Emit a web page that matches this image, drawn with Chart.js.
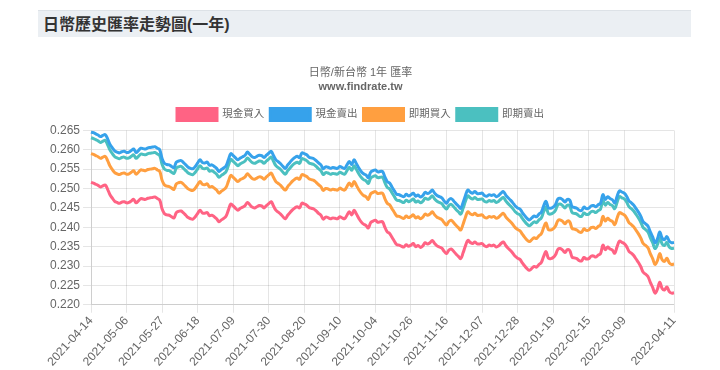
<!DOCTYPE html>
<html>
<head>
<meta charset="utf-8">
<script src="https://cdn.jsdelivr.net/npm/chart.js@4"></script>
<style>
  html, body { margin: 0; padding: 0; background: #fff; }
  body { width: 720px; height: 370px; position: relative; overflow: hidden;
         font-family: "Liberation Sans", Arial, "Noto Sans CJK TC", sans-serif; }
  .head { position: absolute; left: 38px; top: 10px; width: 653px; height: 27px;
          background: #ebeff3; border-top: 1px solid #dde2e7; box-sizing: border-box; }
  .head h1 { margin: 0; padding-left: 5px; font-size: 16px; line-height: 28px; font-weight: bold; color: #333; }
  .box { position: absolute; left: 38px; top: 52px; width: 654px; height: 318px; }
</style>
</head>
<body>
<div class="head"><h1>日幣歷史匯率走勢圖(一年)</h1></div>
<div class="box"><canvas id="graficoJPY"></canvas></div>
<script>
// eixo x: só estas datas aparecem (a cada 15 pregões, última no fim)
const tickLabels = ["2021-04-14", "2021-05-06", "2021-05-27", "2021-06-18", "2021-07-09", "2021-07-30",
  "2021-08-20", "2021-09-10", "2021-10-04", "2021-10-26", "2021-11-16", "2021-12-07", "2021-12-28",
  "2022-01-19", "2022-02-15", "2022-03-09", "2022-04-11"];
const tickIndex = [0, 15, 30, 45, 60, 75, 90, 105, 120, 135, 150, 165, 180, 195, 210, 225, 246];

const nomes = ["現金買入", "現金賣出", "即期買入", "即期賣出"];
const cores = ["#ff6384", "#36a2eb", "#ff9f40", "#4bc0c0"];

const cashBuy = [0.2516,0.2514,0.2511,0.2508,0.2504,0.2507,0.2509,0.2498,0.2484,0.2475,
0.2467,0.2464,0.2462,0.2465,0.2466,0.2463,0.2464,0.2468,0.2472,0.2463,
0.2468,0.2474,0.2473,0.2472,0.2475,0.2476,0.2477,0.2478,0.2474,0.2470,
0.2447,0.2435,0.2432,0.2431,0.2427,0.2424,0.2438,0.2441,0.2442,0.2437,
0.2431,0.2425,0.2422,0.2421,0.2427,0.2436,0.2444,0.2437,0.2436,0.2438,
0.2430,0.2431,0.2427,0.2422,0.2414,0.2419,0.2423,0.2429,0.2445,0.2460,
0.2455,0.2449,0.2444,0.2449,0.2452,0.2456,0.2464,0.2458,0.2452,0.2450,
0.2453,0.2456,0.2455,0.2450,0.2456,0.2461,0.2466,0.2455,0.2444,0.2439,
0.2434,0.2427,0.2422,0.2431,0.2438,0.2445,0.2450,0.2453,0.2450,0.2462,
0.2460,0.2457,0.2451,0.2449,0.2447,0.2442,0.2436,0.2431,0.2421,0.2426,
0.2425,0.2422,0.2424,0.2423,0.2422,0.2427,0.2424,0.2422,0.2431,0.2440,
0.2432,0.2444,0.2434,0.2423,0.2414,0.2408,0.2405,0.2398,0.2412,0.2416,
0.2418,0.2413,0.2414,0.2414,0.2400,0.2388,0.2384,0.2374,0.2364,0.2355,
0.2354,0.2351,0.2349,0.2355,0.2351,0.2354,0.2358,0.2350,0.2353,0.2348,
0.2352,0.2360,0.2357,0.2360,0.2366,0.2358,0.2352,0.2349,0.2346,0.2338,
0.2332,0.2341,0.2344,0.2338,0.2331,0.2325,0.2319,0.2334,0.2352,0.2366,
0.2361,0.2358,0.2362,0.2357,0.2357,0.2358,0.2352,0.2350,0.2354,0.2352,
0.2354,0.2349,0.2352,0.2358,0.2362,0.2353,0.2346,0.2340,0.2333,0.2325,
0.2320,0.2317,0.2308,0.2300,0.2293,0.2289,0.2294,0.2299,0.2297,0.2304,
0.2309,0.2325,0.2337,0.2320,0.2319,0.2322,0.2329,0.2343,0.2345,0.2341,
0.2335,0.2342,0.2340,0.2323,0.2321,0.2319,0.2314,0.2313,0.2322,0.2318,
0.2319,0.2325,0.2326,0.2323,0.2328,0.2332,0.2354,0.2342,0.2349,0.2344,
0.2341,0.2333,0.2350,0.2364,0.2361,0.2358,0.2350,0.2338,0.2333,0.2327,
0.2318,0.2309,0.2298,0.2284,0.2279,0.2273,0.2258,0.2245,0.2230,0.2240,
0.2258,0.2242,0.2238,0.2246,0.2234,0.2230,0.2231];

const cashSell = [0.2646,0.2644,0.2641,0.2638,0.2634,0.2637,0.2639,0.2628,0.2614,0.2605,
0.2597,0.2594,0.2592,0.2595,0.2596,0.2593,0.2594,0.2598,0.2602,0.2593,
0.2598,0.2604,0.2603,0.2602,0.2605,0.2606,0.2607,0.2608,0.2604,0.2600,
0.2577,0.2565,0.2562,0.2561,0.2557,0.2554,0.2568,0.2571,0.2572,0.2567,
0.2561,0.2555,0.2552,0.2551,0.2557,0.2566,0.2574,0.2567,0.2566,0.2568,
0.2560,0.2561,0.2557,0.2552,0.2544,0.2549,0.2553,0.2559,0.2575,0.2590,
0.2585,0.2579,0.2574,0.2579,0.2582,0.2586,0.2594,0.2588,0.2582,0.2580,
0.2583,0.2586,0.2585,0.2580,0.2586,0.2591,0.2596,0.2585,0.2574,0.2569,
0.2564,0.2557,0.2552,0.2561,0.2568,0.2575,0.2580,0.2583,0.2580,0.2592,
0.2590,0.2587,0.2581,0.2579,0.2577,0.2572,0.2566,0.2561,0.2551,0.2556,
0.2555,0.2552,0.2554,0.2553,0.2552,0.2557,0.2554,0.2552,0.2561,0.2570,
0.2562,0.2574,0.2564,0.2553,0.2544,0.2538,0.2535,0.2528,0.2542,0.2546,
0.2548,0.2543,0.2544,0.2544,0.2530,0.2518,0.2514,0.2504,0.2494,0.2485,
0.2484,0.2481,0.2479,0.2485,0.2481,0.2484,0.2488,0.2480,0.2483,0.2478,
0.2482,0.2490,0.2487,0.2490,0.2496,0.2488,0.2482,0.2479,0.2476,0.2468,
0.2462,0.2471,0.2474,0.2468,0.2461,0.2455,0.2449,0.2464,0.2482,0.2496,
0.2491,0.2488,0.2492,0.2487,0.2487,0.2488,0.2482,0.2480,0.2484,0.2482,
0.2484,0.2479,0.2482,0.2488,0.2492,0.2483,0.2476,0.2470,0.2463,0.2455,
0.2450,0.2447,0.2438,0.2430,0.2423,0.2419,0.2424,0.2429,0.2427,0.2434,
0.2439,0.2455,0.2467,0.2450,0.2449,0.2452,0.2459,0.2473,0.2475,0.2471,
0.2465,0.2472,0.2470,0.2453,0.2451,0.2449,0.2444,0.2443,0.2452,0.2448,
0.2449,0.2455,0.2456,0.2453,0.2458,0.2462,0.2484,0.2472,0.2479,0.2474,
0.2471,0.2463,0.2480,0.2494,0.2491,0.2488,0.2480,0.2468,0.2463,0.2457,
0.2448,0.2439,0.2428,0.2414,0.2409,0.2403,0.2388,0.2375,0.2360,0.2370,
0.2388,0.2372,0.2368,0.2376,0.2364,0.2360,0.2361];

const spotBuy = [0.2590,0.2588,0.2585,0.2582,0.2578,0.2581,0.2583,0.2572,0.2558,0.2549,
0.2541,0.2538,0.2536,0.2539,0.2540,0.2537,0.2538,0.2542,0.2546,0.2537,
0.2542,0.2548,0.2547,0.2546,0.2549,0.2550,0.2551,0.2552,0.2548,0.2544,
0.2521,0.2509,0.2506,0.2505,0.2501,0.2498,0.2512,0.2515,0.2516,0.2511,
0.2505,0.2499,0.2496,0.2495,0.2501,0.2510,0.2518,0.2511,0.2510,0.2512,
0.2504,0.2505,0.2501,0.2496,0.2488,0.2493,0.2497,0.2503,0.2519,0.2534,
0.2529,0.2523,0.2518,0.2523,0.2526,0.2530,0.2538,0.2532,0.2526,0.2524,
0.2527,0.2530,0.2529,0.2524,0.2530,0.2535,0.2540,0.2529,0.2518,0.2513,
0.2508,0.2501,0.2496,0.2505,0.2512,0.2519,0.2524,0.2527,0.2524,0.2536,
0.2534,0.2531,0.2525,0.2523,0.2521,0.2516,0.2510,0.2505,0.2495,0.2500,
0.2499,0.2496,0.2498,0.2497,0.2496,0.2501,0.2498,0.2496,0.2505,0.2514,
0.2506,0.2518,0.2508,0.2497,0.2488,0.2482,0.2479,0.2472,0.2486,0.2490,
0.2492,0.2487,0.2488,0.2488,0.2474,0.2462,0.2458,0.2448,0.2438,0.2429,
0.2428,0.2425,0.2423,0.2429,0.2425,0.2428,0.2432,0.2424,0.2427,0.2422,
0.2426,0.2434,0.2431,0.2434,0.2440,0.2432,0.2426,0.2423,0.2420,0.2412,
0.2406,0.2415,0.2418,0.2412,0.2405,0.2399,0.2393,0.2408,0.2426,0.2440,
0.2435,0.2432,0.2436,0.2431,0.2431,0.2432,0.2426,0.2424,0.2428,0.2426,
0.2428,0.2423,0.2426,0.2432,0.2436,0.2427,0.2420,0.2414,0.2407,0.2399,
0.2394,0.2391,0.2382,0.2374,0.2367,0.2363,0.2368,0.2373,0.2371,0.2378,
0.2383,0.2399,0.2411,0.2394,0.2393,0.2396,0.2403,0.2417,0.2419,0.2415,
0.2409,0.2416,0.2414,0.2397,0.2395,0.2393,0.2388,0.2387,0.2396,0.2392,
0.2393,0.2399,0.2400,0.2397,0.2402,0.2406,0.2428,0.2416,0.2423,0.2418,
0.2415,0.2407,0.2424,0.2438,0.2435,0.2432,0.2424,0.2412,0.2407,0.2401,
0.2392,0.2383,0.2372,0.2358,0.2353,0.2347,0.2332,0.2319,0.2304,0.2314,
0.2332,0.2316,0.2312,0.2320,0.2308,0.2304,0.2305];

const spotSell = [0.2631,0.2629,0.2626,0.2623,0.2619,0.2622,0.2624,0.2613,0.2599,0.2590,
0.2582,0.2579,0.2577,0.2580,0.2581,0.2578,0.2579,0.2583,0.2587,0.2578,
0.2583,0.2589,0.2588,0.2587,0.2590,0.2591,0.2592,0.2593,0.2589,0.2585,
0.2562,0.2550,0.2547,0.2546,0.2542,0.2539,0.2553,0.2556,0.2557,0.2552,
0.2546,0.2540,0.2537,0.2536,0.2542,0.2551,0.2559,0.2552,0.2551,0.2553,
0.2545,0.2546,0.2542,0.2537,0.2529,0.2534,0.2538,0.2544,0.2560,0.2575,
0.2570,0.2564,0.2559,0.2564,0.2567,0.2571,0.2579,0.2573,0.2567,0.2565,
0.2568,0.2571,0.2570,0.2565,0.2571,0.2576,0.2581,0.2570,0.2559,0.2554,
0.2549,0.2542,0.2537,0.2546,0.2553,0.2560,0.2565,0.2568,0.2565,0.2577,
0.2575,0.2572,0.2566,0.2564,0.2562,0.2557,0.2551,0.2546,0.2536,0.2541,
0.2540,0.2537,0.2539,0.2538,0.2537,0.2542,0.2539,0.2537,0.2546,0.2555,
0.2547,0.2559,0.2549,0.2538,0.2529,0.2523,0.2520,0.2513,0.2527,0.2531,
0.2533,0.2528,0.2529,0.2529,0.2515,0.2503,0.2499,0.2489,0.2479,0.2470,
0.2469,0.2466,0.2464,0.2470,0.2466,0.2469,0.2473,0.2465,0.2468,0.2463,
0.2467,0.2475,0.2472,0.2475,0.2481,0.2473,0.2467,0.2464,0.2461,0.2453,
0.2447,0.2456,0.2459,0.2453,0.2446,0.2440,0.2434,0.2449,0.2467,0.2481,
0.2476,0.2473,0.2477,0.2472,0.2472,0.2473,0.2467,0.2465,0.2469,0.2467,
0.2469,0.2464,0.2467,0.2473,0.2477,0.2468,0.2461,0.2455,0.2448,0.2440,
0.2435,0.2432,0.2423,0.2415,0.2408,0.2404,0.2409,0.2414,0.2412,0.2419,
0.2424,0.2440,0.2452,0.2435,0.2434,0.2437,0.2444,0.2458,0.2460,0.2456,
0.2450,0.2457,0.2455,0.2438,0.2436,0.2434,0.2429,0.2428,0.2437,0.2433,
0.2434,0.2440,0.2441,0.2438,0.2443,0.2447,0.2469,0.2457,0.2464,0.2459,
0.2456,0.2448,0.2465,0.2479,0.2476,0.2473,0.2465,0.2453,0.2448,0.2442,
0.2433,0.2424,0.2413,0.2399,0.2394,0.2388,0.2373,0.2360,0.2345,0.2355,
0.2373,0.2357,0.2353,0.2361,0.2349,0.2345,0.2346];

// uma categoria por pregão; entre as datas do eixo preenche com dias úteis
const labels = [];
for (let t = 0; t < tickLabels.length; t++) {
  labels.push(tickLabels[t]);
  if (t === tickLabels.length - 1) break;
  const d = new Date(tickLabels[t] + "T00:00:00Z");
  for (let k = tickIndex[t] + 1; k < tickIndex[t + 1]; k++) {
    do { d.setUTCDate(d.getUTCDate() + 1); } while (d.getUTCDay() === 0 || d.getUTCDay() === 6);
    labels.push(d.toISOString().slice(0, 10));
  }
}

const series = [cashBuy, cashSell, spotBuy, spotSell];
const fonte = "'Liberation Sans', Arial, 'Noto Sans CJK TC', sans-serif";
Chart.defaults.font.family = fonte;
Chart.defaults.font.size = 12;
Chart.defaults.color = "#666";

const ctx = document.getElementById("graficoJPY").getContext("2d");
new Chart(ctx, {
  type: "line",
  data: {
    labels: labels,
    datasets: series.map((s, i) => ({
      label: nomes[i],
      data: s,
      borderColor: cores[i],
      backgroundColor: cores[i],
      borderWidth: 3,
      pointRadius: 0,
      tension: 0.4,
      fill: false
    }))
  },
  options: {
    responsive: true,
    maintainAspectRatio: false,
    animation: false,
    layout: { padding: { left: 9, right: 18, top: 0, bottom: 0 } },
    plugins: {
      title: { display: true, text: "日幣/新台幣 1年 匯率", padding: { top: 14, bottom: 1 }, font: { size: 11, weight: "normal" } },
      subtitle: { display: true, text: "www.findrate.tw", color: "#666", padding: { top: 0, bottom: 9 }, font: { size: 11, weight: "bold" } },
      legend: { position: "top", labels: { boxWidth: 40, boxHeight: 12, padding: 6, color: "#666", font: { size: 10.5 } } },
      tooltip: { enabled: false }
    },
    scales: {
      x: {
        grid: { color: "rgba(0,0,0,0.1)" },
        ticks: {
          autoSkip: false, minRotation: 48, maxRotation: 48, padding: 1,
          callback: (v, i) => tickIndex.includes(i) ? labels[i] : null
        }
      },
      y: {
        min: 0.22, max: 0.265,
        grid: { color: "rgba(0,0,0,0.1)" },
        ticks: { stepSize: 0.005, callback: v => v.toFixed(3) }
      }
    }
  }
});
</script>
</body>
</html>
